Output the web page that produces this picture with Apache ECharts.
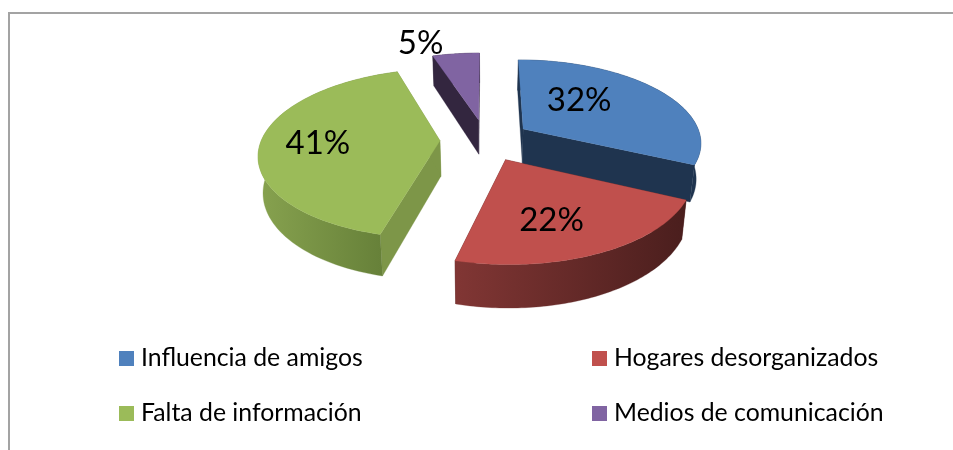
<!DOCTYPE html>
<html>
<head>
<meta charset="utf-8">
<style>html,body{margin:0;padding:0;background:#fff}#c{width:953px;height:450px}</style>
<script src="https://cdn.jsdelivr.net/npm/echarts@6/dist/echarts.min.js"></script>
</head>
<body>
<div id="c"></div>
<script>
const categories = ['Influencia de amigos', 'Hogares desorganizados', 'Falta de información', 'Medios de comunicación'];
const values = [32, 22, 41, 5];

const topColors = ['#4F81BD', '#C0504D', '#9BBB59', '#8064A2'];
const sideColors = ['#1F344F', '#4C1F1E', '#7D9648', '#33263F'];
const wallStops = [
  ['#1F344F', '#1F344F'],
  ['#813634', '#4A1E1D'],
  ['#87A24F', '#627C36'],
  ['#33263F', '#33263F']
];
const labelOffsets = [[56, -29], [46, 61], [-122, 3], [-58, -77]];

const view = { vx: 485.5, y0: 140, B: 178.5, A: 82.5, k: 0.15, explode: 0.255, h: 35.5, shrink: 0.978 };
const total = values.reduce((a, b) => a + b, 0);
const starts = [];
values.reduce((acc, v, i) => { starts[i] = acc; return acc + v; }, 0);
const angle = v => v / total * Math.PI * 2;

function project(i, th, r) {
  const a0 = angle(starts[i]), a1 = angle(starts[i] + values[i]), mid = (a0 + a1) / 2;
  const X = view.explode * Math.sin(mid) + r * Math.sin(th);
  const Z = view.explode * Math.cos(mid) + r * Math.cos(th);
  const d = 1 + view.k * Z;
  const x = view.vx + view.B * X / d, y = view.y0 - view.A * Z / d;
  return { top: [x, y], bot: [view.vx + (x - view.vx) * view.shrink, y + view.h / d] };
}

function renderSlice(i) {
  const a0 = angle(starts[i]), a1 = angle(starts[i] + values[i]);
  const n = 80, arc = [];
  for (let s = 0; s <= n; s++) arc.push(project(i, a0 + (a1 - a0) * s / n, 1));
  const apex = project(i, 0, 0);
  const first = arc[0], last = arc[n];
  const poly = (points, fill, z2) => ({ type: 'polygon', shape: { points }, style: { fill, stroke: fill, lineWidth: 0.3 }, z2, silent: true });
  const wallFill = new echarts.graphic.LinearGradient(0, 0, 1, 0, [
    { offset: 0, color: wallStops[i][0] }, { offset: 1, color: wallStops[i][1] }
  ]);
  return {
    type: 'group',
    children: [
      poly([apex.top, first.top, first.bot, apex.bot], sideColors[i], 1),
      poly([apex.top, last.top, last.bot, apex.bot], sideColors[i], 2),
      poly(arc.map(p => p.top).concat(arc.map(p => p.bot).reverse()), wallFill, 3),
      poly([apex.top].concat(arc.map(p => p.top)), topColors[i], 4),
      {
        type: 'text', z2: 10, silent: true,
        x: apex.top[0] + labelOffsets[i][0],
        y: apex.top[1] + labelOffsets[i][1],
        style: { text: values[i] + '%', font: '33px Lato', fill: '#000', align: 'center', verticalAlign: 'middle' }
      }
    ]
  };
}

function nearness(i) {
  const mid = (angle(starts[i]) + angle(starts[i] + values[i])) / 2;
  return -Math.cos(mid);
}
const paintOrder = categories.map((_, i) => i).sort((a, b) => nearness(a) - nearness(b));

const legendText = { fontFamily: 'Lato', fontSize: 24.8, color: '#000', padding: [0, 0, 0, 2] };
const chart = echarts.init(document.getElementById('c'), null, { renderer: 'canvas' });
chart.setOption({
  animation: false,
  backgroundColor: '#fff',
  legend: [
    { data: [categories[0], categories[2]], orient: 'vertical', left: 119, top: 346, padding: 0, itemWidth: 15, itemHeight: 15, itemGap: 30, selectedMode: false, icon: 'rect', textStyle: legendText },
    { data: [categories[1], categories[3]], orient: 'vertical', left: 592, top: 346, padding: 0, itemWidth: 15, itemHeight: 15, itemGap: 30, selectedMode: false, icon: 'rect', textStyle: legendText }
  ],
  graphic: [
    { type: 'line', silent: true, shape: { x1: 8, y1: 13, x2: 953, y2: 13 }, style: { stroke: '#A3A3A3', lineWidth: 2 } },
    { type: 'line', silent: true, shape: { x1: 9, y1: 12, x2: 9, y2: 450 }, style: { stroke: '#A3A3A3', lineWidth: 2 } }
  ],
  series: categories.map((name, i) => ({
    type: 'custom',
    name,
    coordinateSystem: 'none',
    silent: true,
    z: 2 + paintOrder.indexOf(i),
    itemStyle: { color: topColors[i] },
    data: [values[i]],
    renderItem: () => renderSlice(i)
  }))
});
</script>
</body>
</html>
